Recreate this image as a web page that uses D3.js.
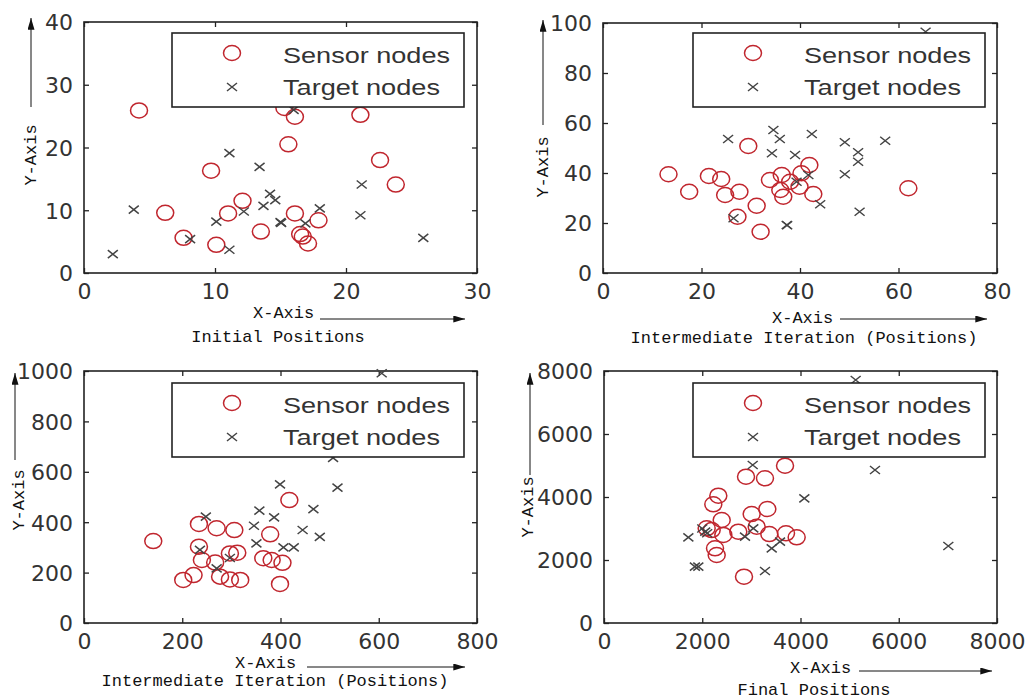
<!DOCTYPE html>
<html>
<head>
<meta charset="utf-8">
<script src="https://cdn.jsdelivr.net/npm/d3@7"></script>
<style>
  body { margin: 0; background: #fff; }
  .tick text { font-family: "DejaVu Sans", sans-serif; font-size: 22px; fill: #333; }
  .axlabel { font-family: "Liberation Mono", monospace; font-size: 17px; fill: #111; }
  .legtext { font-family: "Liberation Sans", Arial, sans-serif; font-size: 22px; fill: #333; }
</style>
</head>
<body>
<div id="container"></div>
<script>
// sensor / target positions, [x, y]
let sensorInitial = [[4.2,25.9],[15.3,26.3],[16.1,24.9],[21.1,25.2],[15.6,20.5],[22.6,18.0],[23.8,14.1],
  [9.7,16.3],[12.1,11.5],[11.0,9.5],[6.2,9.6],[7.6,5.6],[10.1,4.5],[13.5,6.6],[16.1,9.5],[17.9,8.4],
  [16.5,6.2],[16.7,5.8],[17.1,4.7]];
let targetInitial = [[11.1,19.1],[13.4,16.9],[3.8,10.1],[2.2,3.0],[8.1,5.4],[10.1,8.2],[11.1,3.7],
  [12.2,9.8],[13.7,10.7],[14.2,12.6],[14.6,11.6],[15.0,8.1],[15.05,8.0],[16.9,7.9],[18.0,10.3],
  [21.2,14.1],[21.1,9.2],[25.9,5.6],[16.0,26.0]];

let sensorIter1 = [[13.3,39.5],[17.5,32.5],[21.5,38.8],[24.0,37.6],[24.8,31.2],[27.7,32.5],[29.5,50.8],
  [31.2,26.9],[27.3,22.5],[32.0,16.5],[33.9,37.2],[36.3,39.2],[36.0,33.2],[36.6,30.5],[39.9,34.5],
  [40.3,39.9],[41.9,43.2],[42.7,31.6],[62.0,33.9],[38.0,36.5]];
let targetIter1 = [[25.4,53.6],[34.6,57.2],[35.9,53.6],[42.4,55.6],[34.3,47.9],[39.0,47.2],[49.1,52.3],
  [57.3,52.9],[51.8,48.3],[51.8,44.5],[49.1,39.5],[44.1,27.5],[52.1,24.5],[37.3,19.2],[37.4,19.1],
  [26.5,21.9],[41.7,39.2],[39.3,36.5],[65.5,96.5]];

let sensorIter2 = [[141,325],[234,393],[270,376],[306,369],[418,488],[379,352],[234,303],[240,250],
  [267,240],[297,276],[312,279],[365,257],[382,250],[404,239],[202,171],[223,190],[277,184],
  [297,173],[318,171],[399,155]];
let targetIter2 = [[399,550],[516,537],[507,655],[606,991],[467,452],[357,446],[387,419],[346,386],
  [445,369],[480,342],[248,422],[351,316],[406,300],[427,300],[270,217],[236,290],[297,258]];

let sensorFinal = [[3685,4994],[2891,4645],[3277,4593],[2327,4042],[2225,3768],[3325,3619],[3006,3460],
  [2396,3270],[2192,2952],[2429,2794],[2734,2899],[3108,3058],[3365,2825],[3705,2848],[3922,2720],
  [2260,2371],[2294,2159],[2850,1470],[2090,3006]];
let targetFinal = [[5123,7714],[5516,4857],[4078,3958],[7009,2444],[3027,5016],[1717,2720],[1850,1790],
  [1920,1790],[2000,3000],[2060,2900],[2100,2850],[3414,2371],[3583,2581],[3277,1651],[2870,2740],
  [3039,3006]];

let xTicks1 = [0,10,20,30],        yTicks1 = [0,10,20,30,40];
let xTicks2 = [0,20,40,60,80],     yTicks2 = [0,20,40,60,80,100];
let xTicks3 = [0,200,400,600,800], yTicks3 = [0,200,400,600,800,1000];
let xTicks4 = [0,2000,4000,6000,8000], yTicks4 = [0,2000,4000,6000,8000];

let titles = ["Initial Positions", "Intermediate Iteration (Positions)",
              "Intermediate Iteration (Positions)", "Final Positions"];
let legendLabels = ["Sensor nodes", "Target nodes"];

// layout of each panel (pixels)
let panels = [
  {sensors: sensorInitial, targets: targetInitial, xt: xTicks1, yt: yTicks1, title: titles[0],
   box: [84, 22, 477, 273], leg: [172, 33], yLab: [30, 155], yArr: [31, 107, 18],
   xLab: [253, 318], xArr: [319, 320, 465], tit: [278, 342]},
  {sensors: sensorIter1, targets: targetIter1, xt: xTicks2, yt: yTicks2, title: titles[1],
   box: [603, 23, 997, 273], leg: [693, 33], yLab: [542, 167], yArr: [543, 125, 20],
   xLab: [772, 323], xArr: [319, 840, 987], tit: [804, 343]},
  {sensors: sensorIter2, targets: targetIter2, xt: xTicks3, yt: yTicks3, title: titles[2],
   box: [84, 371, 477, 623], leg: [172, 383], yLab: [18, 500], yArr: [15, 460, 373],
   xLab: [235, 668], xArr: [667, 307, 465], tit: [275, 686]},
  {sensors: sensorFinal, targets: targetFinal, xt: xTicks4, yt: yTicks4, title: titles[3],
   box: [604, 371, 997, 623], leg: [693, 383], yLab: [527, 507], yArr: [530, 475, 373],
   xLab: [790, 673], xArr: [671, 859, 992], tit: [814, 695]}
];

let svg = d3.select("#container").append("svg")
  .attr("width", 1025).attr("height", 699);

svg.append("defs").append("marker")
    .attr("id", "arrow")
    .attr("viewBox", "0 0 10 6")
    .attr("refX", 10).attr("refY", 3)
    .attr("markerWidth", 12).attr("markerHeight", 7)
    .attr("markerUnits", "userSpaceOnUse")
    .attr("orient", "auto")
  .append("path")
    .attr("d", "M0,0L10,3L0,6Z")
    .attr("fill", "#111");

function crossPath(x, y) {
  return "M" + (x - 5) + "," + (y - 4) + "L" + (x + 5) + "," + (y + 4) +
         "M" + (x - 5) + "," + (y + 4) + "L" + (x + 5) + "," + (y - 4);
}

let fmt = d3.format("d");

panels.forEach(function(p) {
  let [l, t, r, b] = p.box;
  let xScale = d3.scaleLinear().domain([p.xt[0], p.xt[p.xt.length - 1]]).range([l, r]);
  let yScale = d3.scaleLinear().domain([p.yt[0], p.yt[p.yt.length - 1]]).range([b, t]);

  let g = svg.append("g");

  // axes (ticks pointing inwards on every side)
  let bottom = g.append("g").attr("transform", "translate(0," + b + ")")
    .call(d3.axisBottom(xScale).tickValues(p.xt).tickFormat(fmt).tickSize(-5).tickPadding(10));
  let left = g.append("g").attr("transform", "translate(" + l + ",0)")
    .call(d3.axisLeft(yScale).tickValues(p.yt).tickFormat(fmt).tickSize(-5).tickPadding(11));
  let top = g.append("g").attr("transform", "translate(0," + t + ")")
    .call(d3.axisTop(xScale).tickValues(p.xt).tickSize(-5).tickFormat(""));
  let right = g.append("g").attr("transform", "translate(" + r + ",0)")
    .call(d3.axisRight(yScale).tickValues(p.yt).tickSize(-5).tickFormat(""));
  [bottom, left, top, right].forEach(function(a) {
    a.select(".domain").remove();
    a.selectAll("line").attr("stroke", "#222").attr("stroke-width", 1.3);
  });
  left.selectAll("text").attr("dy", "0.36em");

  g.append("rect")
    .attr("x", l).attr("y", t).attr("width", r - l).attr("height", b - t)
    .attr("fill", "none").attr("stroke", "#222").attr("stroke-width", 1.6);

  // points
  g.selectAll(".sensor").data(p.sensors).enter().append("ellipse")
    .attr("cx", d => xScale(d[0])).attr("cy", d => yScale(d[1]))
    .attr("rx", 8.5).attr("ry", 7.5)
    .attr("fill", "none").attr("stroke", "#c0262e").attr("stroke-width", 1.5);

  g.selectAll(".target").data(p.targets).enter().append("path")
    .attr("d", d => crossPath(xScale(d[0]), yScale(d[1])))
    .attr("stroke", "#444").attr("stroke-width", 1.5).attr("fill", "none");

  // legend
  let [lx, ly] = p.leg;
  let leg = g.append("g").attr("transform", "translate(" + lx + "," + ly + ")");
  leg.append("rect").attr("width", 292).attr("height", 74)
    .attr("fill", "#fff").attr("stroke", "#222").attr("stroke-width", 1.6);
  leg.append("ellipse").attr("cx", 60).attr("cy", 20).attr("rx", 8.5).attr("ry", 7.5)
    .attr("fill", "none").attr("stroke", "#c0262e").attr("stroke-width", 1.5);
  leg.append("path").attr("d", crossPath(60, 54))
    .attr("stroke", "#444").attr("stroke-width", 1.5);
  leg.append("text").attr("class", "legtext").attr("x", 111).attr("y", 30)
    .attr("textLength", 167).attr("lengthAdjust", "spacingAndGlyphs").text(legendLabels[0]);
  leg.append("text").attr("class", "legtext").attr("x", 111).attr("y", 62)
    .attr("textLength", 157).attr("lengthAdjust", "spacingAndGlyphs").text(legendLabels[1]);

  // axis names with arrows
  g.append("text").attr("class", "axlabel")
    .attr("transform", "translate(" + p.yLab[0] + "," + p.yLab[1] + ") rotate(-90)")
    .attr("text-anchor", "middle").attr("dy", "0.35em")
    .text("Y-Axis");
  g.append("line")
    .attr("x1", p.yArr[0]).attr("x2", p.yArr[0]).attr("y1", p.yArr[1]).attr("y2", p.yArr[2])
    .attr("stroke", "#111").attr("stroke-width", 1).attr("marker-end", "url(#arrow)");

  g.append("text").attr("class", "axlabel")
    .attr("x", p.xLab[0]).attr("y", p.xLab[1]).text("X-Axis");
  g.append("line")
    .attr("x1", p.xArr[1]).attr("x2", p.xArr[2]).attr("y1", p.xArr[0]).attr("y2", p.xArr[0])
    .attr("stroke", "#111").attr("stroke-width", 1).attr("marker-end", "url(#arrow)");

  g.append("text").attr("class", "axlabel")
    .attr("x", p.tit[0]).attr("y", p.tit[1]).attr("text-anchor", "middle")
    .text(p.title);
});
</script>
</body>
</html>
